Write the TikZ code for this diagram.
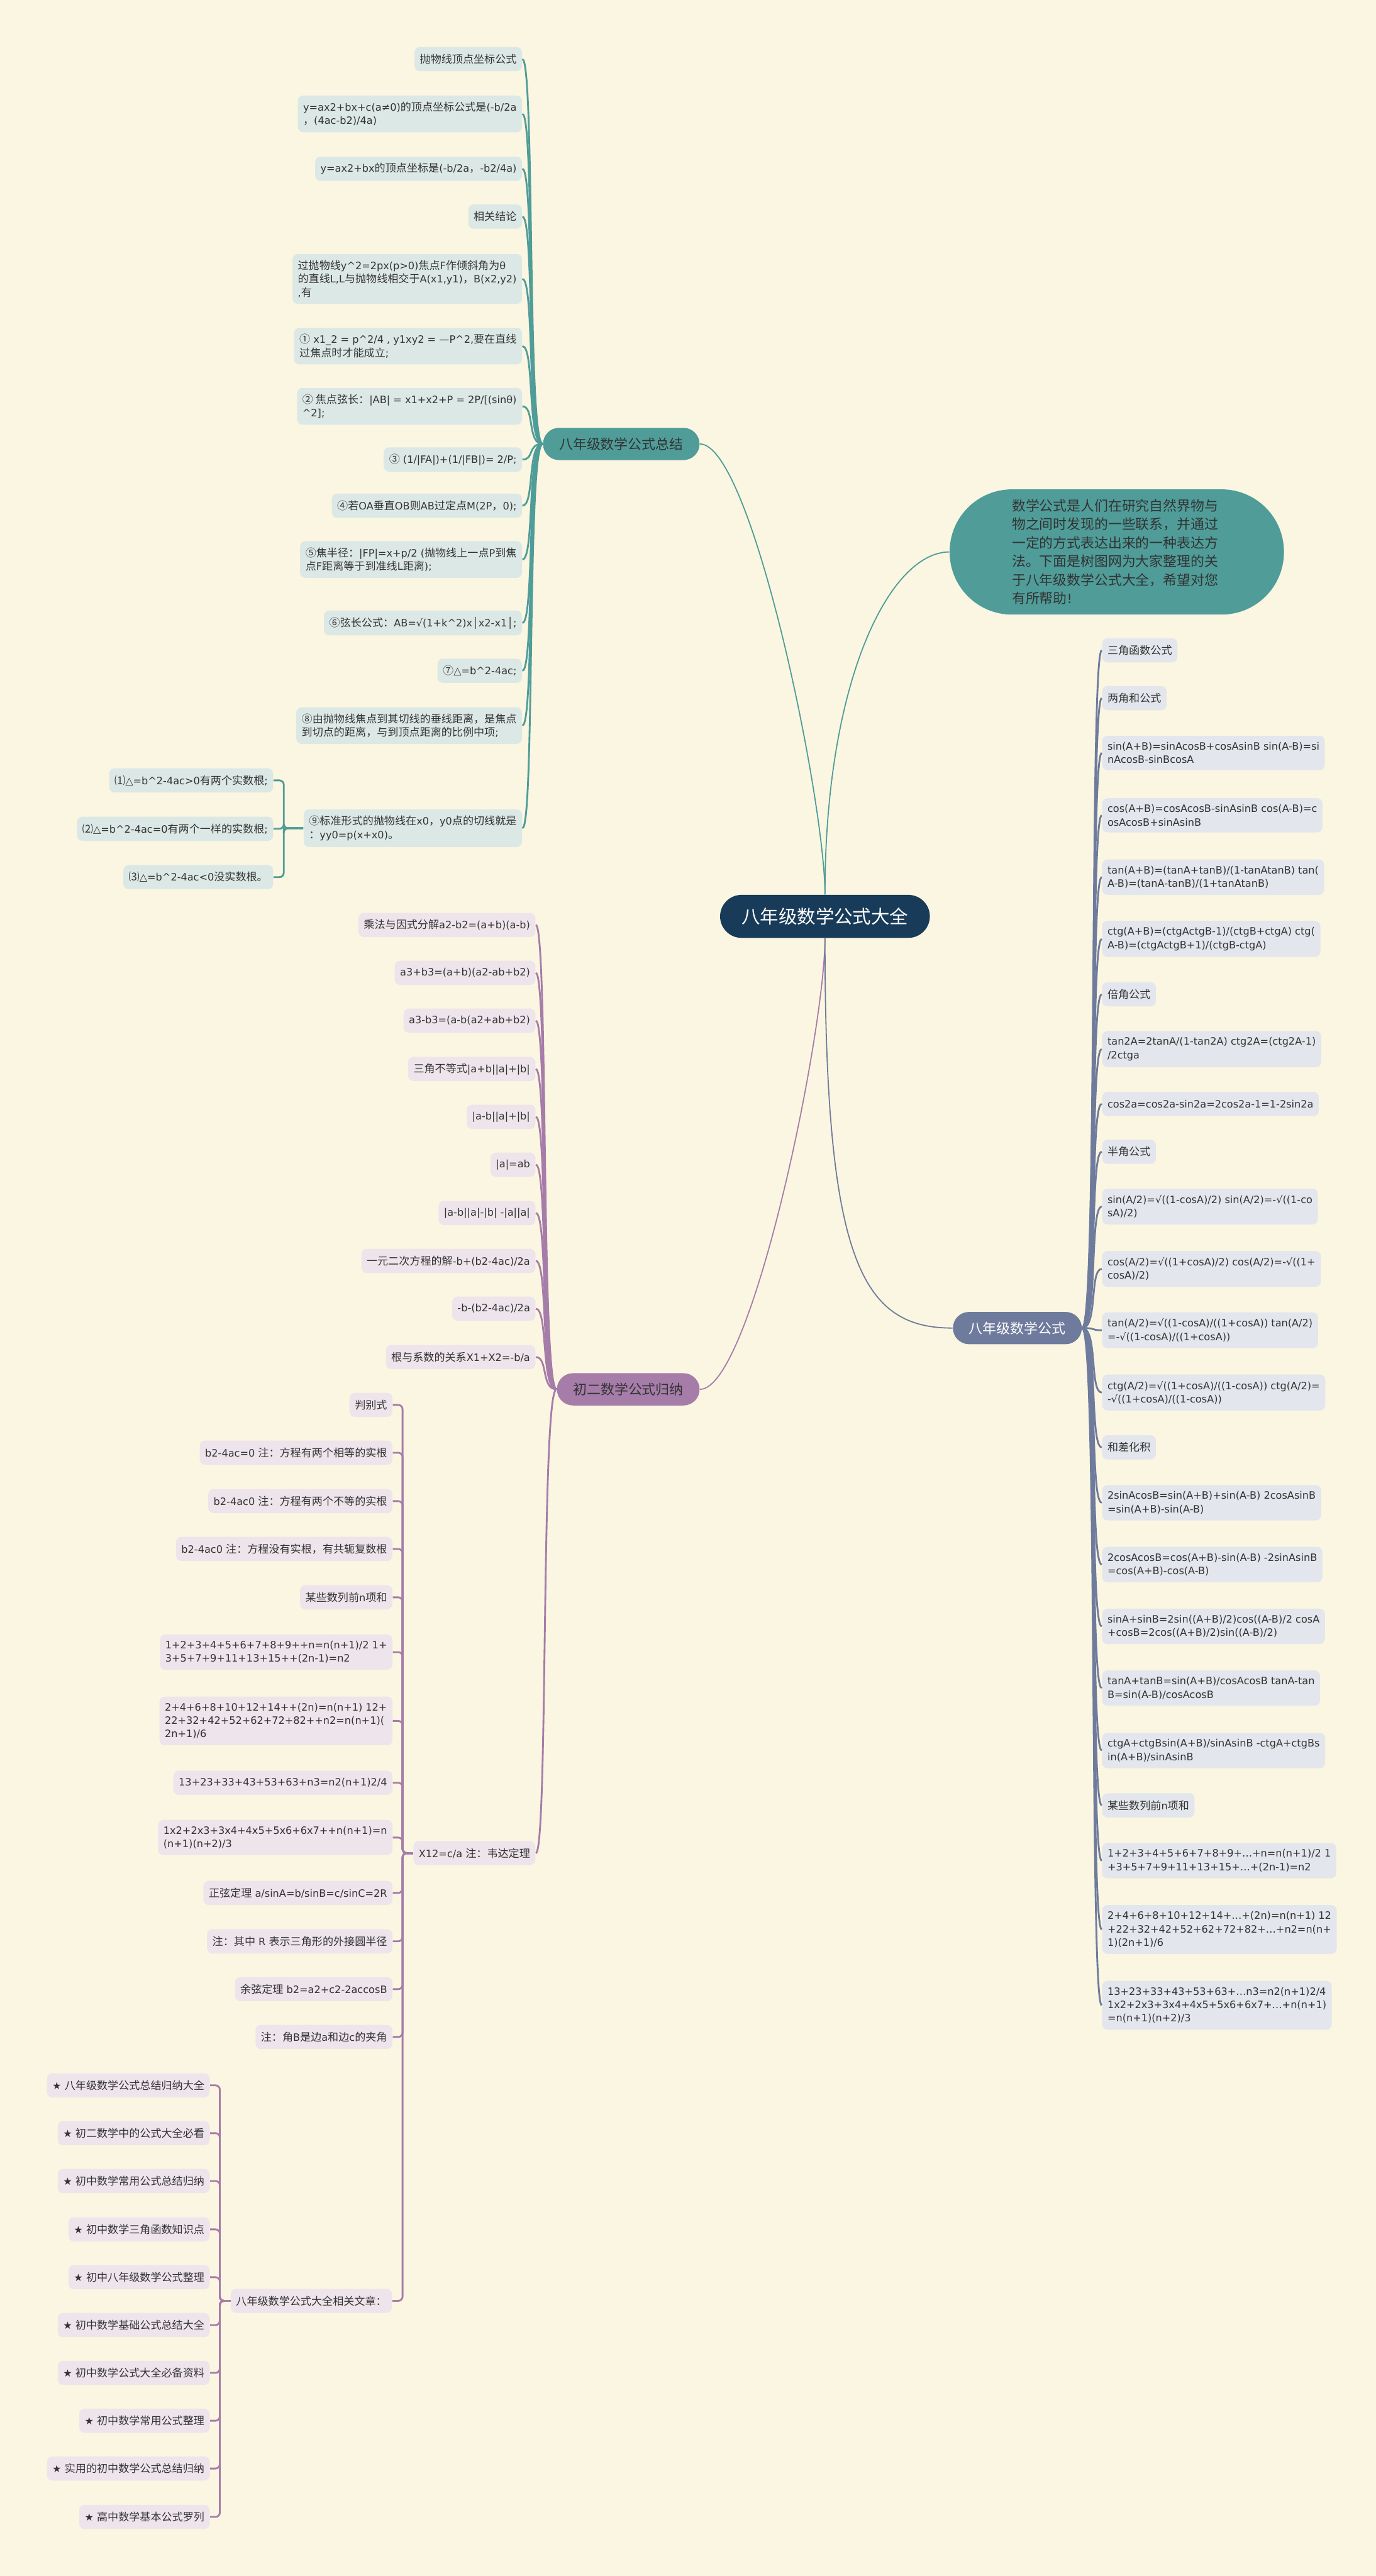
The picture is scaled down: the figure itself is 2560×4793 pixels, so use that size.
\documentclass[tikz,border=0pt]{standalone}
\usepackage{fontspec}
\setmainfont{Noto Sans CJK SC}
\newfontfamily\latfont{DejaVu Sans}[Scale=0.944]
%% Latin runs inside Chinese text
\newcommand\ltn[1]{{\latfont #1}}

\definecolor{bgcream}{HTML}{FBF6E1}
\definecolor{navy}{HTML}{173B58}
\definecolor{tealc}{HTML}{4F9C99}
\definecolor{tealleaf}{HTML}{DCE8E6}
\definecolor{purpc}{HTML}{A67CA9}
\definecolor{purpleaf}{HTML}{EEE4EC}
\definecolor{slatec}{HTML}{6F7B9D}
\definecolor{slateleaf}{HTML}{E3E6EC}
\definecolor{inkc}{HTML}{333333}

\newcommand\leaffont{\fontsize{5.69pt}{7.11pt}\selectfont}
\newcommand\branchfont{\fontsize{7.31pt}{8.5pt}\selectfont}
\newcommand\rootfont{\fontsize{9.81pt}{11.5pt}\selectfont}
\newcommand\introfont{\fontsize{7.28pt}{9.79pt}\selectfont}
%% two or three lines, left aligned
\newcommand\twol[2]{\vbox{\hbox{#1}\hbox{#2}}}
\newcommand\threel[3]{\vbox{\hbox{#1}\hbox{#2}\hbox{#3}}}

\begin{document}
\begin{tikzpicture}[x=0.1mm, y=-0.1mm,
  leaf/.style={rounded corners=1mm, inner xsep=1mm, inner ysep=1.2mm,
    minimum height=4.5mm, font=\leaffont, text=inkc},
  tleaf/.style={leaf, fill=tealleaf, anchor=east},
  pleaf/.style={leaf, fill=purpleaf, anchor=east},
  pform/.style={pleaf, font=\leaffont\latfont},
  sleaf/.style={leaf, fill=slateleaf, anchor=west},
  sform/.style={sleaf, font=\leaffont\latfont},
  branch/.style={rounded corners=3mm, inner xsep=3mm, minimum height=6mm,
    font=\branchfont},
  tline/.style={tealc, line width=0.95pt},
  pline/.style={purpc, line width=0.95pt},
  sline/.style={slatec, line width=0.95pt},
  elbow/.style={rounded corners=0.8mm}]

\useasboundingbox (0,0) rectangle (2560,4793);
\fill[bgcream] (0,0) rectangle (2560,4793);

%% === centro ===
\node[fill=navy, text=white, rounded corners=4mm, minimum height=8mm,
      inner xsep=4mm, font=\rootfont] (root) at (1535,1705) {八年级数学公式大全};

\node[fill=tealc, text=inkc, rounded corners=11.6mm, minimum height=23.3mm,
      inner xsep=11.6mm, text width=39mm, align=left, font=\introfont]
  (intro) at (2078,1027)
  {数学公式是人们在研究自然界物与\\物之间时发现的一些联系，并通过\\一定的方式表达出来的一种表达方\\法。下面是树图网为大家整理的关\\于八年级数学公式大全，希望对您\\有所帮助\ltn{!}};

\node[branch, fill=tealc, text=inkc]  (b1) at (1156,826)  {八年级数学公式总结};
\node[branch, fill=purpc, text=inkc]  (b2) at (1169,2585) {初二数学公式归纳};
\node[branch, fill=slatec, text=white] (b3) at (1893,2471) {八年级数学公式};

\draw[tline, line width=0.6pt] (root.north) .. controls +(0,-175) and +(96,0) .. (b1.east);
\draw[tline, line width=0.6pt] (root.north) .. controls +(0,-400) and +(-110,0) .. (intro.west);
\draw[pline, line width=0.6pt] (root.south) .. controls +(0,175) and +(96,0) .. (b2.east);
\draw[sline, line width=0.6pt] (root.south) .. controls +(0,600) and +(-170,0) .. (b3.west);

%% === ramo sinistro alto: parabola ===
\node[tleaf] (t1)  at (972,110)  {抛物线顶点坐标公式};
\node[tleaf] (t2)  at (972,212)  {\twol{\ltn{y=ax2+bx+c(a≠0)}的顶点坐标公式是\ltn{(-b/2a}}{，\ltn{(4ac-b2)/4a)}}};
\node[tleaf] (t3)  at (972,314)  {\ltn{y=ax2+bx}的顶点坐标是\ltn{(-b/2a}，\ltn{-b2/4a)}};
\node[tleaf] (t4)  at (972,403)  {相关结论};
\node[tleaf] (t5)  at (972,519)  {\threel{过抛物线\ltn{y\textasciicircum2=2px(p>0)}焦点\ltn{F}作倾斜角为\ltn{θ}}{的直线\ltn{L,L}与抛物线相交于\ltn{A(x1,y1)}，\ltn{B(x2,y2)}}{\ltn{,}有}};
\node[tleaf] (t6)  at (972,644)  {\twol{①\ltn{ x1\_2 = p\textasciicircum2/4 , y1xy2 = —P\textasciicircum2,}要在直线}{过焦点时才能成立\ltn{;}}};
\node[tleaf] (t7)  at (972,756)  {\twol{② 焦点弦长：\ltn{|AB| = x1+x2+P = 2P/[(sinθ)}}{\ltn{\textasciicircum2];}}};
\node[tleaf] (t8)  at (972,855)  {③\ltn{ (1/|FA|)+(1/|FB|)= 2/P;}};
\node[tleaf] (t9)  at (972,941)  {④若\ltn{OA}垂直\ltn{OB}则\ltn{AB}过定点\ltn{M(2P}，\ltn{0);}};
\node[tleaf] (t10) at (972,1041) {\twol{⑤焦半径：\ltn{|FP|=x+p/2 (}抛物线上一点\ltn{P}到焦}{点\ltn{F}距离等于到准线\ltn{L}距离\ltn{);}}};
\node[tleaf] (t11) at (972,1159) {⑥弦长公式：\ltn{AB=√(1+k\textasciicircum2)x│x2-x1│;}};
\node[tleaf] (t12) at (972,1248) {⑦\ltn{△=b\textasciicircum2-4ac;}};
\node[tleaf] (t13) at (972,1350) {\twol{⑧由抛物线焦点到其切线的垂线距离，是焦点}{到切点的距离，与到顶点距离的比例中项\ltn{;}}};
\node[tleaf] (t14) at (972,1541) {\twol{⑨标准形式的抛物线在\ltn{x0}，\ltn{y0}点的切线就是}{：\ltn{yy0=p(x+x0)}。}};

\node[tleaf] (c1) at (509,1452) {⑴\ltn{△=b\textasciicircum2-4ac>0}有两个实数根\ltn{;}};
\node[tleaf] (c2) at (509,1542) {⑵\ltn{△=b\textasciicircum2-4ac=0}有两个一样的实数根\ltn{;}};
\node[tleaf] (c3) at (509,1632) {⑶\ltn{△=b\textasciicircum2-4ac<0}没实数根。};

\foreach \i in {1,...,14}
  \draw[tline] (t\i.east) .. controls +(23,0) and +(-29,0) .. (b1.west);
\coordinate (t14j) at (528,1541);
\foreach \i in {1,2,3}
  \draw[tline, elbow] (t14.west) -- (t14j) |- (c\i.east);

%% === ramo sinistro basso: formule ===
\node[pleaf] (p1)  at (997,1721) {乘法与因式分解\ltn{a2-b2=(a+b)(a-b)}};
\node[pform] (p2)  at (997,1810) {a3+b3=(a+b)(a2-ab+b2)};
\node[pform] (p3)  at (997,1899) {a3-b3=(a-b(a2+ab+b2)};
\node[pleaf] (p4)  at (997,1989) {三角不等式\ltn{|a+b||a|+|b|}};
\node[pform] (p5)  at (997,2078) {|a-b||a|+|b|};
\node[pform] (p6)  at (997,2167) {|a|=ab};
\node[pform] (p7)  at (997,2257) {|a-b||a|-|b| -|a||a|};
\node[pleaf] (p8)  at (997,2346) {一元二次方程的解\ltn{-b+(b2-4ac)/2a}};
\node[pform] (p9)  at (997,2435) {-b-(b2-4ac)/2a};
\node[pleaf] (p10) at (997,2525) {根与系数的关系\ltn{X1+X2=-b/a}};
\node[pleaf] (p11) at (997,3448) {\ltn{X12=c/a }注：韦达定理};

\foreach \i in {1,...,11}
  \draw[pline] (p\i.east) .. controls +(23,0) and +(-29,0) .. (b2.west);

\node[pleaf] (q1)  at (731,2614) {判别式};
\node[pleaf] (q2)  at (731,2703) {\ltn{b2-4ac=0 }注：方程有两个相等的实根};
\node[pleaf] (q3)  at (731,2793) {\ltn{b2-4ac0 }注：方程有两个不等的实根};
\node[pleaf] (q4)  at (731,2882) {\ltn{b2-4ac0 }注：方程没有实根，有共轭复数根};
\node[pleaf] (q5)  at (731,2972) {某些数列前\ltn{n}项和};
\node[pform] (q6)  at (731,3074) {\twol{1+2+3+4+5+6+7+8+9++n=n(n+1)/2 1+}{3+5+7+9+11+13+15++(2n-1)=n2}};
\node[pform] (q7)  at (731,3202) {\threel{2+4+6+8+10+12+14++(2n)=n(n+1) 12+}{22+32+42+52+62+72+82++n2=n(n+1)(}{2n+1)/6}};
\node[pform] (q8)  at (731,3317) {13+23+33+43+53+63+n3=n2(n+1)2/4};
\node[pform] (q9)  at (731,3419) {\twol{1x2+2x3+3x4+4x5+5x6+6x7++n(n+1)=n}{(n+1)(n+2)/3}};
\node[pleaf] (q10) at (731,3522) {正弦定理\ltn{ a/sinA=b/sinB=c/sinC=2R}};
\node[pleaf] (q11) at (731,3612) {注：其中\ltn{ R }表示三角形的外接圆半径};
\node[pleaf] (q12) at (731,3701) {余弦定理\ltn{ b2=a2+c2-2accosB}};
\node[pleaf] (q13) at (731,3790) {注：角\ltn{B}是边\ltn{a}和边\ltn{c}的夹角};
\node[pleaf] (q14) at (730,4281) {八年级数学公式大全相关文章：};

\coordinate (p11j) at (749,3448);
\foreach \i in {1,...,14}
  \draw[pline, elbow] (p11.west) -- (p11j) |- (q\i.east);

\node[pleaf] (a1)  at (391,3880) {\ltn{★ }八年级数学公式总结归纳大全};
\node[pleaf] (a2)  at (391,3969) {\ltn{★ }初二数学中的公式大全必看};
\node[pleaf] (a3)  at (391,4058) {\ltn{★ }初中数学常用公式总结归纳};
\node[pleaf] (a4)  at (391,4148) {\ltn{★ }初中数学三角函数知识点};
\node[pleaf] (a5)  at (391,4237) {\ltn{★ }初中八年级数学公式整理};
\node[pleaf] (a6)  at (391,4326) {\ltn{★ }初中数学基础公式总结大全};
\node[pleaf] (a7)  at (391,4415) {\ltn{★ }初中数学公式大全必备资料};
\node[pleaf] (a8)  at (391,4504) {\ltn{★ }初中数学常用公式整理};
\node[pleaf] (a9)  at (391,4593) {\ltn{★ }实用的初中数学公式总结归纳};
\node[pleaf] (a10) at (391,4683) {\ltn{★ }高中数学基本公式罗列};

\coordinate (q14j) at (409,4281);
\foreach \i in {1,...,10}
  \draw[pline, elbow] (q14.west) -- (q14j) |- (a\i.east);

%% === ramo destro: trigonometria ===
\node[sleaf] (r1)  at (2050,1210) {三角函数公式};
\node[sleaf] (r2)  at (2050,1299) {两角和公式};
\node[sform] (r3)  at (2050,1401) {\twol{sin(A+B)=sinAcosB+cosAsinB sin(A-B)=si}{nAcosB-sinBcosA}};
\node[sform] (r4)  at (2050,1517) {\twol{cos(A+B)=cosAcosB-sinAsinB cos(A-B)=c}{osAcosB+sinAsinB}};
\node[sform] (r5)  at (2050,1632) {\twol{tan(A+B)=(tanA+tanB)/(1-tanAtanB) tan(}{A-B)=(tanA-tanB)/(1+tanAtanB)}};
\node[sform] (r6)  at (2050,1747) {\twol{ctg(A+B)=(ctgActgB-1)/(ctgB+ctgA) ctg(}{A-B)=(ctgActgB+1)/(ctgB-ctgA)}};
\node[sleaf] (r7)  at (2050,1850) {倍角公式};
\node[sform] (r8)  at (2050,1952) {\twol{tan2A=2tanA/(1-tan2A) ctg2A=(ctg2A-1)}{/2ctga}};
\node[sform] (r9)  at (2050,2054) {cos2a=cos2a-sin2a=2cos2a-1=1-2sin2a};
\node[sleaf] (r10) at (2050,2143) {半角公式};
\node[sform] (r11) at (2050,2245) {\twol{sin(A/2)=√((1-cosA)/2) sin(A/2)=-√((1-co}{sA)/2)}};
\node[sform] (r12) at (2050,2361) {\twol{cos(A/2)=√((1+cosA)/2) cos(A/2)=-√((1+}{cosA)/2)}};
\node[sform] (r13) at (2050,2475) {\twol{tan(A/2)=√((1-cosA)/((1+cosA)) tan(A/2)}{=-√((1-cosA)/((1+cosA))}};
\node[sform] (r14) at (2050,2591) {\twol{ctg(A/2)=√((1+cosA)/((1-cosA)) ctg(A/2)=}{-√((1+cosA)/((1-cosA))}};
\node[sleaf] (r15) at (2050,2693) {和差化积};
\node[sform] (r16) at (2050,2796) {\twol{2sinAcosB=sin(A+B)+sin(A-B) 2cosAsinB}{=sin(A+B)-sin(A-B)}};
\node[sform] (r17) at (2050,2911) {\twol{2cosAcosB=cos(A+B)-sin(A-B) -2sinAsinB}{=cos(A+B)-cos(A-B)}};
\node[sform] (r18) at (2050,3026) {\twol{sinA+sinB=2sin((A+B)/2)cos((A-B)/2 cosA}{+cosB=2cos((A+B)/2)sin((A-B)/2)}};
\node[sform] (r19) at (2050,3141) {\twol{tanA+tanB=sin(A+B)/cosAcosB tanA-tan}{B=sin(A-B)/cosAcosB}};
\node[sform] (r20) at (2050,3257) {\twol{ctgA+ctgBsin(A+B)/sinAsinB -ctgA+ctgBs}{in(A+B)/sinAsinB}};
\node[sleaf] (r21) at (2050,3359) {某些数列前\ltn{n}项和};
\node[sform] (r22) at (2050,3462) {\twol{1+2+3+4+5+6+7+8+9+…+n=n(n+1)/2 1}{+3+5+7+9+11+13+15+…+(2n-1)=n2}};
\node[sform] (r23) at (2050,3590) {\threel{2+4+6+8+10+12+14+…+(2n)=n(n+1) 12}{+22+32+42+52+62+72+82+…+n2=n(n+}{1)(2n+1)/6}};
\node[sform] (r24) at (2050,3731) {\threel{13+23+33+43+53+63+…n3=n2(n+1)2/4}{1x2+2x3+3x4+4x5+5x6+6x7+…+n(n+1)}{=n(n+1)(n+2)/3}};

\foreach \i in {1,...,24}
  \draw[sline] (b3.east) .. controls +(29,0) and +(-23,0) .. (r\i.west);

\end{tikzpicture}
\end{document}
